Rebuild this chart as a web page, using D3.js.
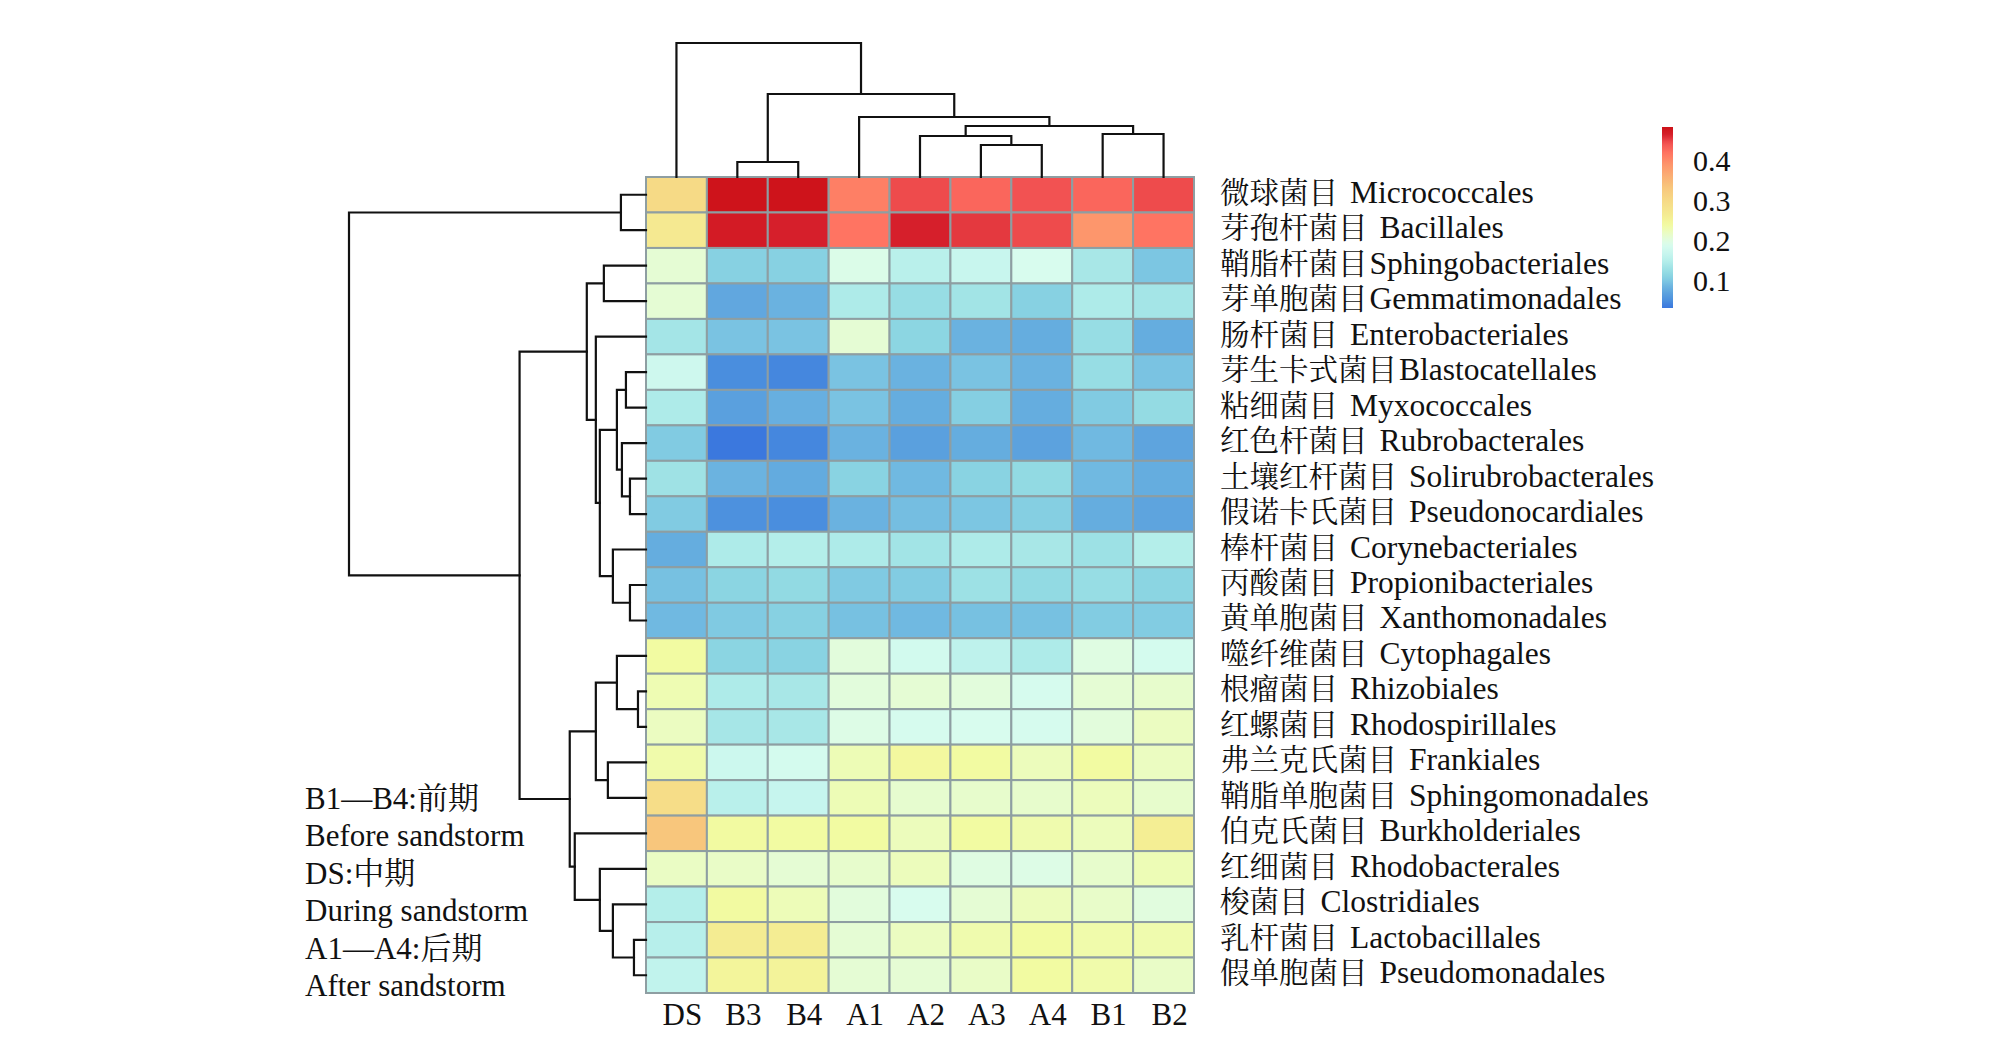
<!DOCTYPE html>
<html>
<head>
<meta charset="utf-8">
<script src="https://cdn.jsdelivr.net/npm/d3@7"></script>
<style>
  body { margin: 0; background: #fff; }
  text { font-family: "Liberation Serif", "Times New Roman", "Noto Serif CJK SC", "Noto Sans CJK SC", serif; fill: #111; }
</style>
</head>
<body>
<div id="chart"></div>
<script>
// columns in dendrogram order
var samples = ["DS", "B3", "B4", "A1", "A2", "A3", "A4", "B1", "B2"];

var orders = [
    "微球菌目 Micrococcales",
    "芽孢杆菌目 Bacillales",
    "鞘脂杆菌目Sphingobacteriales",
    "芽单胞菌目Gemmatimonadales",
    "肠杆菌目 Enterobacteriales",
    "芽生卡式菌目Blastocatellales",
    "粘细菌目 Myxococcales",
    "红色杆菌目 Rubrobacterales",
    "土壤红杆菌目 Solirubrobacterales",
    "假诺卡氏菌目 Pseudonocardiales",
    "棒杆菌目 Corynebacteriales",
    "丙酸菌目 Propionibacteriales",
    "黄单胞菌目 Xanthomonadales",
    "噬纤维菌目 Cytophagales",
    "根瘤菌目 Rhizobiales",
    "红螺菌目 Rhodospirillales",
    "弗兰克氏菌目 Frankiales",
    "鞘脂单胞菌目 Sphingomonadales",
    "伯克氏菌目 Burkholderiales",
    "红细菌目 Rhodobacterales",
    "梭菌目 Clostridiales",
    "乳杆菌目 Lactobacillales",
    "假单胞菌目 Pseudomonadales"
];

// one row per order, values per sample (same order as samples)
var abundance = [
    [0.300, 0.482, 0.482, 0.410, 0.448, 0.430, 0.445, 0.430, 0.448],
    [0.270, 0.472, 0.466, 0.420, 0.466, 0.455, 0.448, 0.390, 0.420],
    [0.210, 0.110, 0.110, 0.195, 0.155, 0.170, 0.190, 0.140, 0.100],
    [0.210, 0.075, 0.085, 0.145, 0.125, 0.135, 0.110, 0.145, 0.137],
    [0.137, 0.098, 0.098, 0.210, 0.115, 0.085, 0.080, 0.125, 0.080],
    [0.178, 0.050, 0.045, 0.098, 0.085, 0.098, 0.085, 0.125, 0.098],
    [0.145, 0.068, 0.082, 0.098, 0.080, 0.108, 0.080, 0.105, 0.122],
    [0.105, 0.035, 0.045, 0.085, 0.068, 0.080, 0.070, 0.090, 0.072],
    [0.132, 0.086, 0.078, 0.112, 0.090, 0.112, 0.120, 0.090, 0.080],
    [0.105, 0.053, 0.050, 0.085, 0.094, 0.100, 0.108, 0.080, 0.072],
    [0.080, 0.145, 0.150, 0.145, 0.135, 0.145, 0.140, 0.130, 0.150],
    [0.096, 0.114, 0.120, 0.104, 0.106, 0.130, 0.120, 0.125, 0.114],
    [0.090, 0.104, 0.110, 0.096, 0.090, 0.096, 0.096, 0.106, 0.106],
    [0.240, 0.114, 0.112, 0.205, 0.183, 0.160, 0.145, 0.200, 0.185],
    [0.230, 0.145, 0.140, 0.205, 0.210, 0.205, 0.188, 0.210, 0.215],
    [0.222, 0.138, 0.140, 0.197, 0.188, 0.190, 0.188, 0.205, 0.222],
    [0.235, 0.175, 0.185, 0.228, 0.245, 0.240, 0.225, 0.240, 0.222],
    [0.295, 0.155, 0.168, 0.228, 0.213, 0.215, 0.215, 0.225, 0.215],
    [0.335, 0.242, 0.240, 0.240, 0.225, 0.240, 0.233, 0.225, 0.260],
    [0.220, 0.218, 0.210, 0.215, 0.225, 0.200, 0.197, 0.215, 0.228],
    [0.150, 0.242, 0.227, 0.205, 0.190, 0.210, 0.225, 0.217, 0.203],
    [0.153, 0.265, 0.262, 0.210, 0.222, 0.233, 0.240, 0.235, 0.233],
    [0.163, 0.250, 0.252, 0.210, 0.210, 0.218, 0.240, 0.235, 0.218]
];

// clustering trees: [height, left, right], leaves are sample names / row indices
var colTree = [134, "DS", [83, [15, "B3", "B4"],
    [60, "A1", [51, [41, "A2", [32, "A3", "A4"]], [43, "B1", "B2"]]]]];

var rowTree = [296, [25, 0, 1],
    [126,
        [59, [42, 2, 3], [50, 4, [46, [29, [20, 5, 6], [24, 7, [16, 8, 9]]], [33, 10, [16, 11, 12]]]]],
        [76, [50, [29, 13, [8, 14, 15]], [38, 16, 17]], [71, 18, [46, 19, [33, 20, [12, 21, 22]]]]]]];

// colour ramp
var colorStops = [0.035, 0.05, 0.07, 0.085, 0.10, 0.115, 0.135, 0.15, 0.17, 0.19, 0.205,
                  0.22, 0.24, 0.26, 0.30, 0.335, 0.39, 0.42, 0.445, 0.465, 0.485];
var colorRange = ["#3b78de", "#4a8ede", "#5ca2de", "#6ab2e0", "#7cc6e2", "#8cd6e2", "#a2e4e6",
                  "#b4eeea", "#c8f6ee", "#d8fcee", "#e2fcdc", "#eafcc4", "#f2fba2", "#f4ee94",
                  "#f6da86", "#f8c67c", "#fd966c", "#ff7462", "#f25252", "#d6202c", "#cc1118"];
var legendTicks = [0.1, 0.2, 0.3, 0.4];
var legendDomain = [0.033, 0.485];

var notes = ["B1—B4:前期", "Before sandstorm", "DS:中期", "During sandstorm",
             "A1—A4:后期", "After sandstorm"];

var W = 2008, H = 1063;
var svg = d3.select("#chart").append("svg")
    .attr("width", W).attr("height", H);

var x = d3.scaleBand().domain(samples).range([646, 1194]);
var y = d3.scaleBand().domain(d3.range(orders.length)).range([177, 993]);
var color = d3.scaleLinear().domain(colorStops).range(colorRange).clamp(true);

// heatmap cells
var cells = [];
abundance.forEach(function(row, i) {
    row.forEach(function(v, j) { cells.push({ r: i, c: samples[j], v: v }); });
});

svg.append("g").selectAll("rect")
    .data(cells)
  .enter().append("rect")
    .attr("x", function(d) { return x(d.c); })
    .attr("y", function(d) { return y(d.r); })
    .attr("width", x.bandwidth())
    .attr("height", y.bandwidth())
    .attr("fill", function(d) { return color(d.v); })
    .attr("stroke", "#8e9ea2")
    .attr("stroke-width", 2);

// dendrograms (elbow style, parent sits at the middle of its children)
var dendro = svg.append("g")
    .attr("fill", "none")
    .attr("stroke", "#111")
    .attr("stroke-width", 2.2)
    .attr("stroke-linecap", "square");

var drawTree = function(node, leafPos, hScale, vertical) {
    if (!Array.isArray(node)) {
        return { p: leafPos(node), h: 0 };
    }
    var a = drawTree(node[1], leafPos, hScale, vertical);
    var b = drawTree(node[2], leafPos, hScale, vertical);
    var hh = hScale(node[0]);
    var pts = [[a.p, hScale(a.h)], [a.p, hh], [b.p, hh], [b.p, hScale(b.h)]];
    if (!vertical) {
        pts = pts.map(function(q) { return [q[1], q[0]]; });
    }
    dendro.append("path").attr("d", d3.line()(pts));
    return { p: (a.p + b.p) / 2, h: node[0] };
};

var topH = d3.scaleLinear().domain([0, 134]).range([177, 43]);
drawTree(colTree, function(s) { return x(s) + x.bandwidth() / 2; }, topH, true);

var leftH = d3.scaleLinear().domain([0, 296]).range([646, 349]);
drawTree(rowTree, function(i) { return y(i) + y.bandwidth() / 2; }, leftH, false);

// row labels: chinese part and latin part get their own size
var splitLabel = function(s) {
    var m = /^([^\x00-\x7f]+)(\s?)(.*)$/.exec(s);
    return { zh: m[1], gap: m[2] ? 12 : 2, en: m[3] };
};

var rowText = svg.append("g").selectAll("text")
    .data(orders.map(splitLabel))
  .enter().append("text")
    .attr("x", 1220)
    .attr("y", function(d, i) { return y(i) + y.bandwidth() / 2 + 8; });
rowText.append("tspan")
    .attr("font-size", 29.5)
    .text(function(d) { return d.zh; });
rowText.append("tspan")
    .attr("dx", function(d) { return d.gap; })
    .attr("font-size", 31.5)
    .text(function(d) { return d.en; });

// column labels
svg.append("g").selectAll("text")
    .data(samples)
  .enter().append("text")
    .attr("x", function(d) { return x(d) + x.bandwidth() / 2 + 6; })
    .attr("y", 1025)
    .attr("text-anchor", "middle")
    .attr("font-size", 31)
    .text(function(d) { return d; });

// colour legend
var ly = d3.scaleLinear().domain(legendDomain).range([308, 127]);
var grad = svg.append("defs").append("linearGradient")
    .attr("id", "ramp")
    .attr("x1", 0).attr("y1", 1).attr("x2", 0).attr("y2", 0);
d3.range(0, 1.0001, 0.02).forEach(function(t) {
    var v = legendDomain[0] + t * (legendDomain[1] - legendDomain[0]);
    grad.append("stop").attr("offset", t).attr("stop-color", color(v));
});
svg.append("rect")
    .attr("x", 1662).attr("y", ly(legendDomain[1]))
    .attr("width", 11)
    .attr("height", ly(legendDomain[0]) - ly(legendDomain[1]))
    .attr("fill", "url(#ramp)");
svg.append("g").selectAll("text")
    .data(legendTicks)
  .enter().append("text")
    .attr("x", 1693)
    .attr("y", function(d) { return ly(d) + 10; })
    .attr("font-size", 30)
    .text(function(d) { return d3.format(".1f")(d); });

// sample period notes
svg.append("g").selectAll("text")
    .data(notes)
  .enter().append("text")
    .attr("x", 305)
    .attr("y", function(d, i) { return 809 + i * 37.4; })
    .attr("font-size", 31)
    .text(function(d) { return d; });
</script>
</body>
</html>
